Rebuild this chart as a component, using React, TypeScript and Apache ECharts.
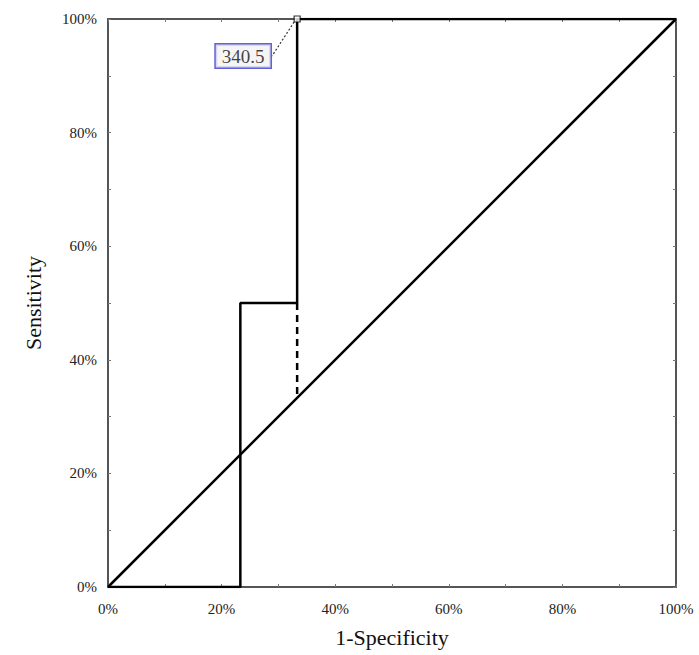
import React, { useEffect, useRef } from "react";
import * as echarts from "echarts";

const rocCurve: [number, number][] = [
  [0, 0],
  [23.3, 0],
  [23.3, 50],
  [33.3, 50],
  [33.3, 100],
  [100, 100],
];
const referenceLine: [number, number][] = [
  [0, 0],
  [100, 100],
];
const dashedDrop: [number, number][] = [
  [33.3, 50],
  [33.3, 33.3],
];
const cutoffPoint: [number, number][] = [[33.3, 100]];
const cutoffLabel = "340.5";
const xTitle = "1-Specificity";
const yTitle = "Sensitivity";

const FONT = "'Liberation Serif', 'DejaVu Serif', serif";

export default function App() {
  const ref = useRef<HTMLDivElement>(null);
  useEffect(() => {
    document.body.style.margin = "0";
    if (!ref.current) return;
    const chart = echarts.init(ref.current, null, { renderer: "svg" });
    const fmt = (v: number) => (Math.round(v) % 20 === 0 ? `${Math.round(v)}%` : "");
    const axisCommon = {
      type: "value" as const,
      min: 0,
      max: 100,
      interval: 10,
      splitLine: { show: false },
      axisLine: { show: true, onZero: false, lineStyle: { color: "#555", width: 2 } },
      axisTick: { show: true, inside: true, length: 3, lineStyle: { color: "#777", width: 1 } },
    };
    chart.setOption({
      animation: false,
      backgroundColor: "#fff",
      grid: { left: 108, top: 19, width: 568, height: 568 },
      xAxis: [
        {
          ...axisCommon,
          position: "bottom",
          name: xTitle,
          nameLocation: "middle",
          nameGap: 39,
          nameTextStyle: { fontFamily: FONT, fontSize: 22, color: "#111" },
          axisLabel: { formatter: fmt, fontFamily: FONT, fontSize: 15, color: "#222", margin: 14 },
        },
        {
          ...axisCommon,
          position: "top",
          axisLabel: { show: false },
        },
      ],
      yAxis: [
        {
          ...axisCommon,
          position: "left",
          name: yTitle,
          nameLocation: "middle",
          nameGap: 64,
          nameTextStyle: { fontFamily: FONT, fontSize: 22, color: "#111" },
          axisLabel: { formatter: fmt, fontFamily: FONT, fontSize: 15, color: "#222", margin: 11 },
        },
        {
          ...axisCommon,
          position: "right",
          axisLabel: { show: false },
        },
      ],
      series: [
        {
          type: "line",
          data: referenceLine,
          symbol: "none",
          lineStyle: { color: "#000", width: 2.5 },
          z: 3,
        },
        {
          type: "line",
          data: rocCurve,
          symbol: "none",
          lineStyle: { color: "#000", width: 2.5 },
          z: 4,
        },
        {
          type: "line",
          data: dashedDrop,
          symbol: "none",
          lineStyle: { color: "#000", width: 2.5, type: [7, 5] },
          z: 4,
        },
        {
          type: "scatter",
          data: cutoffPoint,
          symbol: "rect",
          symbolSize: 6,
          itemStyle: { color: "#fff", borderColor: "#000", borderWidth: 1.2 },
          z: 6,
          label: {
            show: true,
            position: "inside",
            formatter: cutoffLabel,
            fontFamily: FONT,
            fontSize: 19,
            color: "#111",
            backgroundColor: "#f2f2f2",
            borderColor: "#3a3acc",
            borderWidth: 1.5,
            padding: [3, 6, 1, 6],
          },
          labelLayout: { dx: -54, dy: 37 },
          labelLine: {
            show: true,
            lineStyle: { color: "#333", width: 1.2, type: [2, 2] },
          },
        },
      ],
    });
    return () => chart.dispose();
  }, []);
  return <div ref={ref} style={{ width: 699, height: 655 }} />;
}
